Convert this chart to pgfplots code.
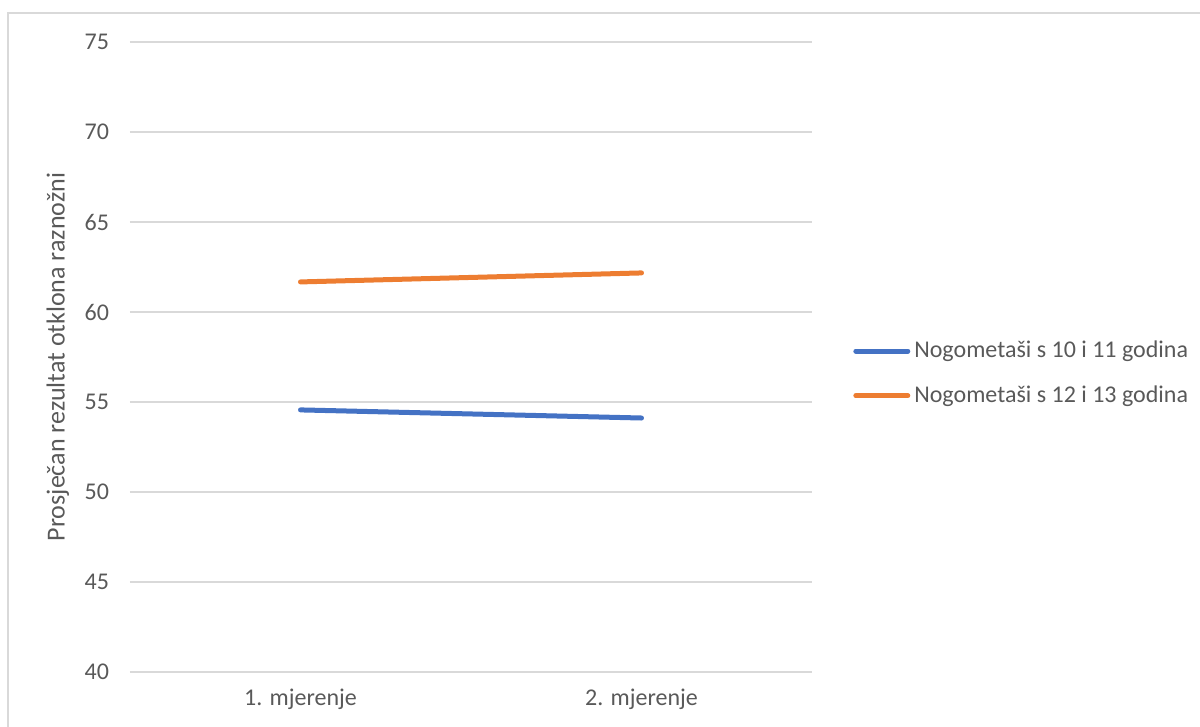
\documentclass[border=0pt]{standalone}
\usepackage{fontspec}
\setmainfont{Carlito}
\usepackage{pgfplots}
\pgfplotsset{compat=1.18}
\definecolor{xlblue}{HTML}{4472C4}
\definecolor{xlorange}{HTML}{ED7D31}
\definecolor{gridgray}{HTML}{D9D9D9}
\definecolor{textgray}{HTML}{595959}
\begin{document}
\begin{tikzpicture}[x=0.5pt,y=0.5pt]
\useasboundingbox (0,0) rectangle (1200,727);
\draw[gridgray, line width=0.9pt] (8,0) -- (8,714) -- (1200,714);
\begin{axis}[
  at={(65pt,27.5pt)}, anchor=south west,
  scale only axis, width=341pt, height=315pt,
  xmin=-0.5, xmax=1.5, ymin=40, ymax=75,
  xtick={0,1}, xticklabels={1. mjerenje, 2. mjerenje},
  ytick={40,45,...,75},
  axis line style={draw=none},
  ymajorgrids, grid style={gridgray, line width=0.6pt},
  major tick length=0pt,
  tick label style={font=\fontsize{12}{14}\selectfont, text=textgray},
  /pgf/number format/assume math mode=true,
  yticklabel style={xshift=-7pt},
  xticklabel style={yshift=-5pt},
  ylabel={Prosječan rezultat otklona raznožni},
  ylabel style={font=\fontsize{13}{15}\selectfont, text=textgray, at={(axis description cs:-0.106,0.5)}, anchor=center},
  legend style={at={(rel axis cs:1.06,0.474)}, anchor=west, draw=none, fill=none,
    font=\fontsize{12}{14}\selectfont, text=textgray, row sep=8.5pt, inner sep=0pt,
    /tikz/every even column/.style={column sep=0pt}},
  legend cell align=left,
  legend image code/.code={\draw[#1, line width=2.5pt, line cap=round] (0pt,0pt) -- (26pt,0pt);},
]
\addplot[xlblue, line width=2.5pt, line cap=round] coordinates {(0,54.56) (1,54.11)};
\addlegendentry{Nogometaši s 10 i 11 godina}
\addplot[xlorange, line width=2.5pt, line cap=round] coordinates {(0,61.67) (1,62.17)};
\addlegendentry{Nogometaši s 12 i 13 godina}
\end{axis}
\end{tikzpicture}
\end{document}
